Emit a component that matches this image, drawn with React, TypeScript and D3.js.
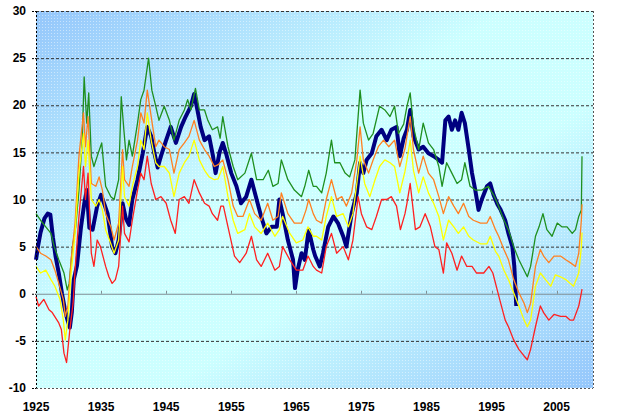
import React from "react";
import * as d3 from "d3";

type P = [number, number];

const yTicks = [-10, -5, 0, 5, 10, 15, 20, 25, 30];
const xTickYears = [1925, 1935, 1945, 1955, 1965, 1975, 1985, 1995, 2005];

const blueSeries: P[] = [
  [1925.0, 3.6], [1925.3, 5], [1925.7, 6.5], [1926.3, 8], [1926.8, 8.5], [1927.2, 8.4], [1927.6, 6], [1928.0, 4],
  [1928.5, 2.2], [1929.0, 0], [1929.4, -1.5], [1929.8, -2.7], [1930.2, -3.6], [1930.5, -2], [1930.8, 1.5], [1931.3, 3],
  [1931.9, 7], [1932.4, 9.5], [1932.8, 11], [1933.2, 7], [1933.7, 6.8], [1934.4, 9.3], [1935.0, 10.5], [1935.5, 9.5],
  [1936.0, 8.5], [1936.7, 5], [1937.2, 4.3], [1937.7, 5.7], [1938.3, 9.6], [1938.8, 8], [1939.3, 7.3], [1939.8, 10],
  [1940.6, 12.1], [1941.4, 14.9], [1942.1, 17.7], [1942.7, 16.7], [1943.2, 14.9], [1943.7, 13.4], [1944.2, 14.6],
  [1945.0, 16.3], [1945.7, 17.7], [1946.5, 16], [1947.3, 17.7], [1948.0, 18.8], [1948.8, 19.9], [1949.3, 21.2],
  [1949.8, 19.5], [1950.3, 17.7], [1950.9, 16.3], [1951.6, 16.7], [1952.2, 14.6], [1952.6, 12.8], [1953.2, 15],
  [1953.7, 16], [1954.2, 14.9], [1955.0, 12.8], [1955.8, 11.4], [1956.5, 9.6], [1957.3, 10.3], [1958.1, 12.1],
  [1958.9, 10], [1959.6, 8.2], [1960.4, 6.4], [1961.2, 7.1], [1962.0, 7.1], [1962.4, 10], [1962.9, 8.5], [1963.7, 5.7],
  [1964.5, 3.6], [1964.8, 0.6], [1965.2, 2.5], [1965.8, 4.3], [1966.3, 3.6], [1966.9, 6.8], [1967.6, 4.7], [1967.9, 4],
  [1968.6, 2.9], [1969.1, 4.3], [1969.9, 7.1], [1970.7, 8.2], [1971.4, 7.5], [1972.2, 6.1], [1972.7, 5], [1973.5, 8.5],
  [1974.3, 10.7], [1974.8, 13.9], [1975.3, 12.8], [1975.8, 14.2], [1976.6, 14.9], [1977.3, 16.7], [1978.1, 17.4],
  [1978.9, 16.3], [1979.6, 17.4], [1980.4, 17.7], [1980.9, 14.6], [1981.5, 16.5], [1982.0, 17.4], [1982.5, 19.5],
  [1983.0, 16.7], [1983.8, 15.3], [1984.5, 15.6], [1985.3, 14.9], [1986.1, 14.6], [1986.9, 14.2], [1987.4, 13.9],
  [1987.9, 18.4], [1988.4, 18.8], [1988.9, 17.4], [1989.4, 18.4], [1989.9, 17.4], [1990.4, 19.2], [1990.9, 18.1],
  [1991.5, 15.3], [1992.0, 12.8], [1992.5, 11], [1993.0, 8.9], [1993.5, 10], [1994.3, 11.4], [1994.8, 11.7],
  [1995.3, 10.5], [1995.9, 9.5], [1996.4, 8.9], [1997.1, 7.8], [1997.6, 6.4], [1998.2, 5], [1998.5, 2.9], [1998.8, -1.3],
];

const greenSeries: P[] = [
  [1925.0, 8.5], [1925.7, 7.8], [1926.5, 7.1], [1927.3, 6.4], [1927.8, 5], [1928.5, 3.6], [1929.3, 2.2], [1929.8, 0.4],
  [1930.1, 1.1], [1930.6, 5], [1931.1, 7.1], [1931.6, 11], [1932.1, 16.3], [1932.4, 23], [1932.8, 18.1], [1933.1, 21.3],
  [1933.5, 14.6], [1933.9, 13.5], [1934.6, 15], [1935.1, 16], [1935.7, 11.4], [1936.5, 10.3], [1937.0, 10], [1937.7, 12.1],
  [1938.1, 20.9], [1938.5, 17.4], [1938.9, 14.2], [1939.3, 16.3], [1939.8, 14.6], [1940.6, 18.1], [1941.1, 20.6],
  [1941.6, 21.6], [1942.3, 25], [1942.8, 21.6], [1943.4, 19.9], [1943.9, 18.4], [1944.7, 19.9], [1945.5, 18.4],
  [1946.2, 16.3], [1947.0, 18.4], [1947.8, 19.5], [1948.3, 20.6], [1948.8, 19.5], [1949.5, 21.8], [1950.1, 19.5],
  [1950.9, 19.5], [1951.4, 18.4], [1952.1, 17.4], [1952.9, 17.7], [1953.3, 16.5], [1953.7, 18.8], [1954.5, 15.6],
  [1955.3, 13.5], [1956.0, 12.1], [1957.1, 12.8], [1958.1, 14.9], [1958.9, 12.1], [1959.9, 12.1], [1960.7, 13.1],
  [1961.4, 11.4], [1962.2, 11.7], [1962.7, 14.2], [1963.7, 12.1], [1964.7, 11], [1965.8, 10.3], [1966.3, 11.4],
  [1966.9, 13.1], [1967.6, 11.4], [1968.1, 11.4], [1968.9, 10.7], [1969.6, 12.8], [1970.4, 16.3], [1970.9, 13.9],
  [1971.7, 13.9], [1972.5, 12.8], [1973.2, 12.4], [1974.0, 14.2], [1974.8, 21.6], [1975.3, 18.1], [1976.1, 16.3],
  [1976.8, 17], [1977.8, 19.9], [1978.6, 19.5], [1979.4, 18.8], [1980.1, 19.9], [1980.7, 17], [1981.5, 18],
  [1982.0, 19.9], [1982.5, 21.3], [1983.0, 17.7], [1983.8, 15.3], [1984.5, 18.1], [1985.3, 16], [1986.1, 15.3],
  [1986.9, 13.5], [1987.4, 11.4], [1988.1, 13.9], [1988.9, 12.8], [1989.7, 11.7], [1990.4, 12.1], [1990.9, 13.9],
  [1991.7, 11.4], [1992.5, 11], [1993.5, 11], [1994.5, 11.4], [1995.3, 10.5], [1995.9, 9.6], [1996.9, 7.8],
  [1997.6, 6.8], [1998.4, 5], [1999.2, 3.6], [2000.0, 2.5], [2000.5, 1.8], [2001.0, 2.9], [2001.75, 6.1], [2002.3, 7.1],
  [2002.9, 8.5], [2003.5, 6.8], [2004.3, 6.1], [2005.1, 7.5], [2005.8, 7.1], [2006.6, 7.1], [2007.4, 6.4], [2007.9, 6.8],
  [2008.4, 8.2], [2008.8, 8.9], [2008.9, 14.6],
];

const orangeSeries: P[] = [
  [1925.0, 5], [1925.7, 4.3], [1926.5, 4], [1927.3, 3.6], [1927.9, 2.5], [1928.5, 1.1], [1929.2, -0.6], [1929.5, -2.4],
  [1929.9, -1.3], [1930.4, 3.6], [1931.0, 7.5], [1931.6, 14.6], [1932.3, 19.2], [1932.6, 15.6], [1933.0, 18.8],
  [1933.5, 11.7], [1934.2, 11.4], [1934.7, 12.4], [1935.2, 11], [1935.7, 8.5], [1936.5, 7.1], [1937.0, 5.7], [1937.7, 7.5],
  [1938.3, 15.3], [1938.6, 12.1], [1939.3, 11.4], [1939.8, 13.5], [1940.6, 16.3], [1941.1, 19.2], [1941.6, 18.1],
  [1942.1, 21.6], [1942.7, 18.8], [1943.4, 15.6], [1943.9, 16.3], [1944.7, 15.6], [1945.5, 15.3], [1946.2, 12.8],
  [1947.0, 15.3], [1947.8, 16], [1948.5, 16.7], [1949.3, 18.4], [1950.1, 16.3], [1950.9, 15.3], [1951.6, 14.6],
  [1952.4, 13.5], [1953.0, 13.7], [1953.7, 14.2], [1954.5, 12.1], [1955.3, 9.3], [1956.0, 8.2], [1956.8, 8.2],
  [1957.8, 10], [1958.6, 8.5], [1959.6, 7.8], [1960.6, 9.6], [1961.4, 7.8], [1962.2, 8.2], [1962.7, 10.7], [1963.7, 8.5],
  [1964.7, 7.5], [1965.8, 7.5], [1966.5, 8.9], [1966.9, 10], [1967.6, 8.5], [1968.1, 7.8], [1968.9, 7.5], [1969.6, 10],
  [1970.4, 12.1], [1971.2, 10], [1972.0, 10.3], [1972.7, 9.3], [1973.5, 10.7], [1974.3, 14.2], [1974.8, 17.7],
  [1975.3, 14.2], [1976.1, 12.8], [1976.8, 14.2], [1977.6, 15.6], [1978.4, 16.3], [1979.2, 15.6], [1980.1, 16.3],
  [1980.9, 13.5], [1981.7, 15.4], [1982.0, 16.7], [1982.5, 18.8], [1983.0, 15.3], [1983.8, 12.8], [1984.5, 14.6],
  [1985.3, 12.8], [1986.1, 12.1], [1986.9, 10.3], [1987.6, 8.5], [1988.4, 10.3], [1989.2, 9.3], [1989.9, 8.5],
  [1990.7, 9.6], [1991.5, 8.2], [1992.2, 7.8], [1993.3, 7.5], [1994.3, 7.5], [1994.8, 8.2], [1995.6, 6.8], [1996.1, 6.1],
  [1996.9, 4.7], [1997.6, 3.6], [1998.4, 1.5], [1999.2, 0.1], [2000.0, -1], [2000.5, -2], [2001.0, -1], [2001.75, 2.9],
  [2002.5, 4.7], [2003.0, 4], [2003.8, 3.3], [2004.6, 4], [2005.6, 4], [2006.4, 3.6], [2007.1, 3.3], [2007.9, 2.9],
  [2008.4, 4.3], [2008.8, 7.8], [2008.9, 9.5],
];

const yellowSeries: P[] = [
  [1925.0, 2.9], [1925.7, 2.2], [1926.5, 2.5], [1927.3, 1.5], [1927.9, 0.8], [1928.7, -0.6], [1929.2, -2.8], [1929.5, -4.9],
  [1929.9, -2.8], [1930.4, 2.2], [1931.0, 6.4], [1931.6, 12.8], [1932.3, 17], [1932.6, 13.5], [1933.0, 16.3], [1933.5, 10],
  [1934.2, 9.3], [1934.7, 10], [1935.2, 8.9], [1935.7, 6.8], [1936.5, 5.3], [1937.0, 4.3], [1937.7, 5.7], [1938.3, 13.5],
  [1938.6, 10.3], [1939.3, 9.3], [1939.8, 11.4], [1940.6, 13.5], [1941.1, 16.3], [1941.6, 15.3], [1942.1, 19.2],
  [1942.7, 16.3], [1943.4, 13.9], [1943.9, 13.5], [1944.7, 13.5], [1945.5, 12.8], [1946.2, 10.3], [1947.0, 12.8],
  [1947.8, 13.9], [1948.5, 14.6], [1949.3, 16.3], [1950.1, 14.2], [1950.9, 13.1], [1951.6, 12.4], [1952.4, 12.1],
  [1953.0, 12.2], [1953.7, 13.5], [1954.5, 10.3], [1955.3, 7.8], [1956.0, 6.4], [1957.1, 6.8], [1957.8, 8.5], [1958.6, 7.1],
  [1959.6, 6.4], [1960.6, 7.5], [1961.7, 6.1], [1962.4, 6.8], [1962.9, 8.2], [1964.0, 6.4], [1965.0, 5.4], [1966.0, 5.7],
  [1966.8, 7.1], [1967.6, 6.1], [1968.1, 6.1], [1968.9, 5.7], [1969.6, 8.2], [1970.4, 10.3], [1971.2, 8.2], [1972.2, 8.5],
  [1973.0, 7.1], [1973.7, 8.5], [1974.5, 12.8], [1974.8, 14.6], [1975.5, 11.7], [1976.3, 10.3], [1977.1, 12.1],
  [1977.8, 13.5], [1978.6, 14.2], [1979.4, 13.9], [1980.1, 13.5], [1980.9, 10.7], [1981.7, 13], [1982.0, 14.2],
  [1982.5, 16.3], [1983.0, 13.1], [1983.8, 10.7], [1984.5, 12.4], [1985.3, 10.7], [1986.1, 9.6], [1986.9, 8.2],
  [1987.6, 5.7], [1988.4, 7.8], [1989.2, 7.1], [1989.9, 6.4], [1990.7, 7.1], [1991.5, 6.1], [1992.2, 5.7], [1993.3, 5.3],
  [1994.3, 5.3], [1994.8, 6.1], [1995.6, 4.5], [1996.1, 4], [1996.9, 2.5], [1997.6, 1.5], [1998.4, 0.1], [1999.2, -1.3],
  [2000.0, -2.8], [2000.5, -3.5], [2001.0, -2.8], [2001.75, 0.8], [2002.5, 2.2], [2003.3, 1.5], [2004.1, 0.8], [2004.8, 2],
  [2005.6, 1.8], [2006.4, 1.5], [2007.1, 1.1], [2007.6, 0.8], [2008.4, 2.2], [2008.8, 5], [2008.9, 6.5],
];

const redSeries: P[] = [
  [1925.0, -0.3], [1925.4, -1.3], [1926.2, -0.6], [1927.0, -1.7], [1927.5, -2], [1928.5, -3.1], [1928.9, -3.8],
  [1929.3, -6.3], [1929.7, -7.3], [1930.2, -3.8], [1930.7, -1], [1931.0, 2.5], [1931.6, 8.2], [1932.3, 13.5], [1932.6, 10],
  [1933.0, 12.8], [1933.5, 4.3], [1933.9, 2.9], [1934.4, 5.7], [1934.9, 5], [1935.7, 2.9], [1936.2, 1.8], [1936.7, 1.1],
  [1937.2, 1.5], [1937.7, 2.9], [1938.3, 9.3], [1938.6, 6.4], [1939.3, 5.5], [1939.8, 7.8], [1940.6, 11], [1941.1, 12.8],
  [1941.6, 12.1], [1942.1, 14.6], [1942.7, 11.7], [1943.4, 10], [1944.2, 10.3], [1945.0, 9.6], [1945.7, 7.8], [1946.4, 6.4],
  [1947.0, 10], [1947.8, 10.3], [1948.5, 9.6], [1949.3, 12.1], [1950.1, 10.7], [1950.9, 9.6], [1951.6, 9.3], [1952.1, 8.5],
  [1952.9, 7.8], [1953.4, 9.3], [1953.8, 9.3], [1954.5, 7.1], [1955.5, 4], [1956.3, 3.3], [1957.3, 4.3], [1958.1, 6.1],
  [1958.9, 3.6], [1959.6, 2.9], [1960.6, 4.3], [1961.7, 2.5], [1962.4, 2.9], [1962.9, 5], [1964.0, 3.6], [1965.0, 2.5],
  [1966.0, 2.5], [1966.8, 4], [1967.6, 2.9], [1968.1, 2.5], [1968.9, 2.2], [1969.6, 5], [1970.4, 6.4], [1971.2, 4.3],
  [1972.2, 5], [1973.0, 3.6], [1973.7, 5.7], [1974.5, 10.3], [1975.0, 8.5], [1975.8, 7.1], [1976.6, 6.8], [1977.3, 8.2],
  [1978.1, 10], [1978.9, 10], [1979.6, 10.3], [1980.4, 9.3], [1981.0, 6.8], [1981.7, 8.5], [1982.0, 9.6], [1982.5, 11.7],
  [1983.3, 6.8], [1984.0, 7.1], [1984.8, 8.5], [1985.6, 7.1], [1986.3, 5], [1986.9, 4.7], [1987.6, 2.2], [1988.1, 5.4],
  [1988.9, 4.3], [1989.7, 2.5], [1990.4, 4], [1991.2, 2.9], [1992.0, 2.9], [1992.7, 2.2], [1993.8, 2.2], [1994.6, 2.9],
  [1995.2, 2.2], [1995.8, 0.6], [1996.4, -1], [1997.1, -2.8], [1997.6, -3.5], [1998.4, -4.9], [1999.2, -5.9],
  [2000.0, -6.6], [2000.5, -7], [2001.0, -5.9], [2001.75, -3.5], [2002.5, -1.3], [2003.0, -2], [2003.8, -2.8],
  [2004.6, -2.2], [2005.6, -2.4], [2006.4, -2.4], [2007.1, -2.8], [2007.6, -2.8], [2008.4, -1.3], [2008.8, 0.1], [2008.9, 0.5],
];

const seriesList: { data: P[]; color: string; width: number }[] = [
  { data: blueSeries, color: "#000080", width: 4 },
  { data: greenSeries, color: "#1f8f1f", width: 1.3 },
  { data: orangeSeries, color: "#ff8020", width: 1.3 },
  { data: yellowSeries, color: "#ffff00", width: 1.3 },
  { data: redSeries, color: "#ff2020", width: 1.3 },
];

const W = 618;
const H = 420;
const L = 36;
const R = 593;
const T = 11;
const B = 388;

export default function App() {
  const x = d3.scaleLinear().domain([1925, 2010.59]).range([L, R]);
  const y = d3.scaleLinear().domain([-10, 30]).range([B, T]);
  const line = d3
    .line<P>()
    .x((d) => x(d[0]))
    .y((d) => y(d[1]))
    .curve(d3.curveLinear);

  const font = "'Liberation Sans', Arial, sans-serif";

  return (
    <svg
      width={W}
      height={H}
      style={{ position: "absolute", left: 0, top: 0, background: "#fff" }}
    >
      <defs>
        <linearGradient id="bg" x1="0" y1="0" x2="1" y2="1">
          <stop offset="0" stopColor="#94c6fb" />
          <stop offset="0.42" stopColor="#ccffff" />
          <stop offset="0.62" stopColor="#ccffff" />
          <stop offset="1" stopColor="#94c6fb" />
        </linearGradient>
        <pattern id="dots" width="3" height="3" patternUnits="userSpaceOnUse">
          <rect x="0" y="0" width="1" height="1" fill="#ffffff" opacity="0.45" />
        </pattern>
      </defs>
      <rect x={L} y={T} width={R - L} height={B - T} fill="url(#bg)" />
      <rect x={L} y={T} width={R - L} height={B - T} fill="url(#dots)" />

      {yTicks
        .filter((v) => v !== 0 && v !== -10)
        .map((v) => (
          <line
            key={"g" + v}
            x1={L}
            x2={R}
            y1={y(v) + 0.5}
            y2={y(v) + 0.5}
            stroke="#333"
            strokeWidth={1}
            strokeDasharray="3,2"
          />
        ))}
      <line x1={L} x2={R} y1={y(0) + 0.5} y2={y(0) + 0.5} stroke="#7f8f95" strokeWidth={1} />
      {xTickYears.slice(1).map((yr) => (
        <line
          key={"xt" + yr}
          x1={Math.round(x(yr)) + 0.5}
          x2={Math.round(x(yr)) + 0.5}
          y1={y(0)}
          y2={y(0) - 3}
          stroke="#7f8f95"
        />
      ))}
      <line x1={L} x2={R} y1={B + 0.5} y2={B + 0.5} stroke="#555" strokeDasharray="2,2" />
      <line x1={R + 0.5} x2={R + 0.5} y1={T} y2={B} stroke="#555" strokeDasharray="2,2" />

      {seriesList.map((s, i) => (
        <path
          key={"s" + i}
          d={line(s.data) || ""}
          fill="none"
          stroke={s.color}
          strokeWidth={s.width}
          strokeLinejoin="round"
        />
      ))}

      <line x1={L + 0.5} x2={L + 0.5} y1={T} y2={B} stroke="#000" strokeDasharray="2,2" />
      {yTicks.map((v) => (
        <g key={"yl" + v}>
          <line x1={L - 4} x2={L} y1={y(v) + 0.5} y2={y(v) + 0.5} stroke="#000" strokeDasharray="2,1" />
          <text
            x={26}
            y={y(v)}
            dy="0.35em"
            textAnchor="end"
            fontFamily={font}
            fontWeight="bold"
            fontSize={12}
            fill="#000"
          >
            {v}
          </text>
        </g>
      ))}
      {xTickYears.map((yr) => (
        <text
          key={"xl" + yr}
          x={x(yr)}
          y={411}
          textAnchor="middle"
          fontFamily={font}
          fontWeight="bold"
          fontSize={12}
          fill="#000"
        >
          {yr}
        </text>
      ))}
    </svg>
  );
}
